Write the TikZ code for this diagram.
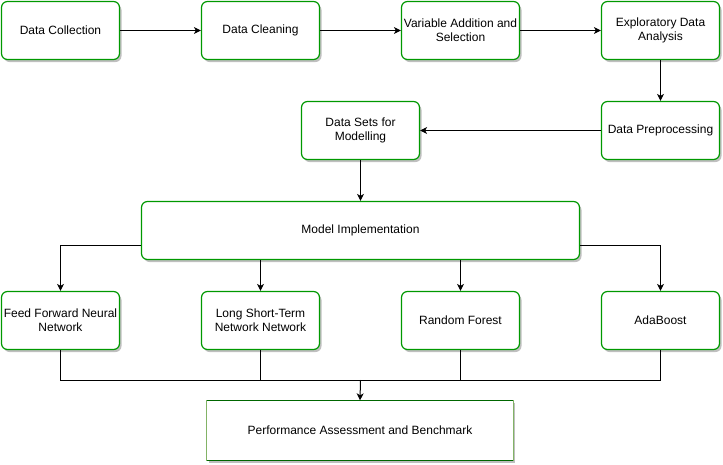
\documentclass[tikz,border=0pt]{standalone}
\usepackage{fontspec}
\setmainfont{Liberation Sans}
\usetikzlibrary{arrows.meta,shadows}
\definecolor{boxgreen}{HTML}{009900}
\definecolor{sidegreen}{HTML}{82B366}
\definecolor{darkgreen}{HTML}{006600}
\begin{document}
\begin{tikzpicture}[x=1pt,y=-1pt,
  every node/.style={font=\fontsize{12}{14}\selectfont, align=center, inner sep=0pt},
  stepbox/.style={draw=boxgreen, line width=1.2pt, rounded corners=6pt, fill=white,
    minimum width=118pt, minimum height=58pt,
    drop shadow={shadow xshift=2pt, shadow yshift=-2.5pt, fill=black!25, opacity=1}},
  conn/.style={line width=1pt, -{Stealth[length=7pt,width=7pt,inset=2pt]}},
  plain/.style={line width=1pt}]
\useasboundingbox (0,0) rectangle (723,464);
\node[stepbox] (dc) at (60.5,30.5) {Data Collection};
\node[stepbox] (dcl) at (260.5,30.5) {Data Cleaning};
\node[stepbox] (vas) at (460.5,30.5) {Variable Addition and\\Selection};
\node[stepbox] (eda) at (660.5,30.5) {Exploratory Data\\Analysis};
\node[stepbox] (dp) at (660.5,130.5) {Data Preprocessing};
\node[stepbox] (ds) at (360.5,130.5) {Data Sets for\\Modelling};
\node[stepbox, minimum width=438pt] (mi) at (360.5,230.5) {Model Implementation};
\node[stepbox] (ffnn) at (60.5,320.5) {Feed Forward Neural\\Network};
\node[stepbox] (lstm) at (260.5,320.5) {Long Short-Term\\Network Network};
\node[stepbox] (rf) at (460.5,320.5) {Random Forest};
\node[stepbox] (ada) at (660.5,320.5) {AdaBoost};
\node[fill=white, minimum width=306pt, minimum height=60pt,
  drop shadow={shadow xshift=2pt, shadow yshift=-2.5pt, fill=black!25, opacity=1}]
  (perf) at (360,430.5) {Performance Assessment and Benchmark};
\draw[sidegreen, line width=1.2pt] (perf.south west) -- (perf.north west)
  (perf.south east) -- (perf.north east);
\draw[darkgreen, line width=1.2pt] (perf.north west) -- (perf.north east)
  (perf.south west) -- (perf.south east);
\coordinate (j) at (360.5,380);
\draw[conn] (dc) -- (dcl);
\draw[conn] (dcl) -- (vas);
\draw[conn] (vas) -- (eda);
\draw[conn] (eda) -- (dp);
\draw[conn] (dp) -- (ds);
\draw[conn] (ds) -- (mi);
\draw[conn] ([yshift=-15pt]mi.west) -| (ffnn.north);
\draw[conn] ([yshift=-15pt]mi.east) -| (ada.north);
\draw[conn] (mi.south -| lstm.north) -- (lstm.north);
\draw[conn] (mi.south -| rf.north) -- (rf.north);
\draw[plain] (ffnn.south) |- (j);
\draw[plain] (ada.south) |- (j);
\draw[plain] (lstm.south) -- (lstm.south |- j);
\draw[plain] (rf.south) -- (rf.south |- j);
\draw[conn] (j) -- (perf.north);
\end{tikzpicture}
\end{document}
